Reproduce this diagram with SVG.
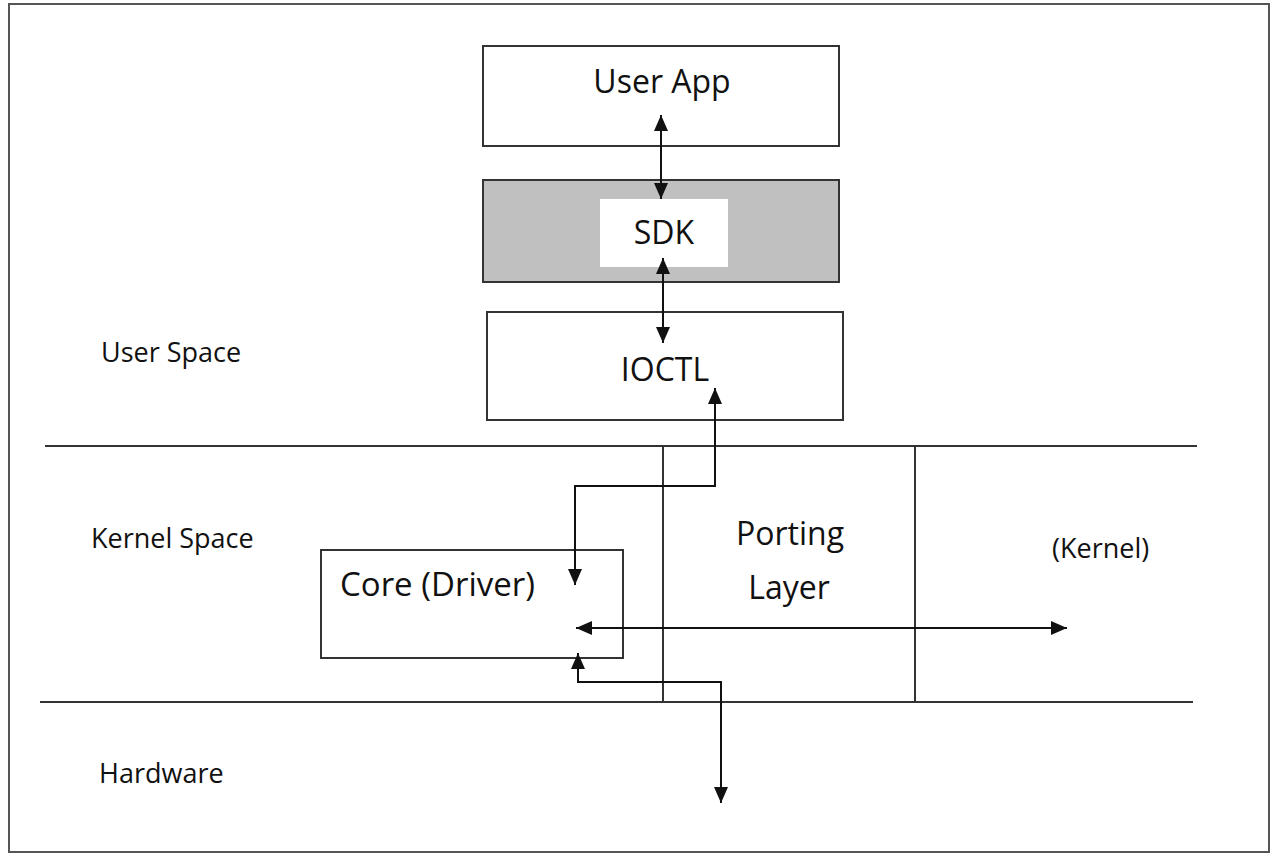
<svg xmlns="http://www.w3.org/2000/svg" width="1271" height="854" viewBox="0 0 1271 854">
<style>
.box{fill:#fff;stroke:#333;stroke-width:2}
.t{font-family:"Open Sans","Liberation Sans",sans-serif;fill:#111}
.big{font-size:32px;text-anchor:middle}
.lbl{font-size:27px}
.ln{stroke:#333;stroke-width:2;fill:none}
.ar{stroke:#111;stroke-width:2;fill:none;marker-start:url(#ah);marker-end:url(#ah)}
</style>
<defs>
<marker id="ah" markerUnits="userSpaceOnUse" markerWidth="16" markerHeight="14" refX="16" refY="7" orient="auto-start-reverse">
<path d="M0,0 L16,7 L0,14 z" fill="#111"/>
</marker>
</defs>
<rect x="0" y="0" width="1271" height="854" fill="#fff"/>
<rect x="9" y="4" width="1260" height="848" fill="none" stroke="#555" stroke-width="2"/>
<g id="layers">
<line class="ln" x1="45" y1="446" x2="1197" y2="446"/>
<line class="ln" x1="40" y1="702" x2="1193" y2="702"/>
<line class="ln" x1="663" y1="446" x2="663" y2="702"/>
<line class="ln" x1="915" y1="446" x2="915" y2="702"/>
</g>
<g id="user-app"><rect class="box" x="483" y="46" width="356" height="100"/><text class="t big" x="662" y="93">User App</text></g>
<g id="sdk"><rect x="483" y="180" width="356" height="102" fill="#c0c0c0" stroke="#333" stroke-width="2"/><rect x="600" y="199" width="128" height="68" fill="#fff"/><text class="t big" x="664" y="244">SDK</text></g>
<g id="ioctl"><rect class="box" x="487" y="312" width="356" height="108"/><text class="t big" x="665" y="381">IOCTL</text></g>
<g id="core"><rect class="box" x="321" y="550" width="302" height="108"/><text class="t" style="font-size:33px" x="340" y="596">Core (Driver)</text></g>
<g id="porting"><text class="t big" x="790" y="545">Porting</text><text class="t big" x="789" y="599">Layer</text></g>
<g id="kernel"><text class="t lbl" x="1052" y="558">(Kernel)</text></g>
<g id="labels">
<text class="t lbl" x="101" y="362">User Space</text>
<text class="t lbl" x="91" y="548">Kernel Space</text>
<text class="t lbl" x="99" y="783">Hardware</text>
</g>
<g id="connectors">
<path class="ar" d="M661,115 V199"/>
<path class="ar" d="M663,258 V343"/>
<path class="ar" d="M715,388 V486 H575 V585"/>
<path class="ar" d="M576,628 H1067"/>
<path class="ar" d="M578,653 V682 H721 V803"/>
</g>
</svg>
